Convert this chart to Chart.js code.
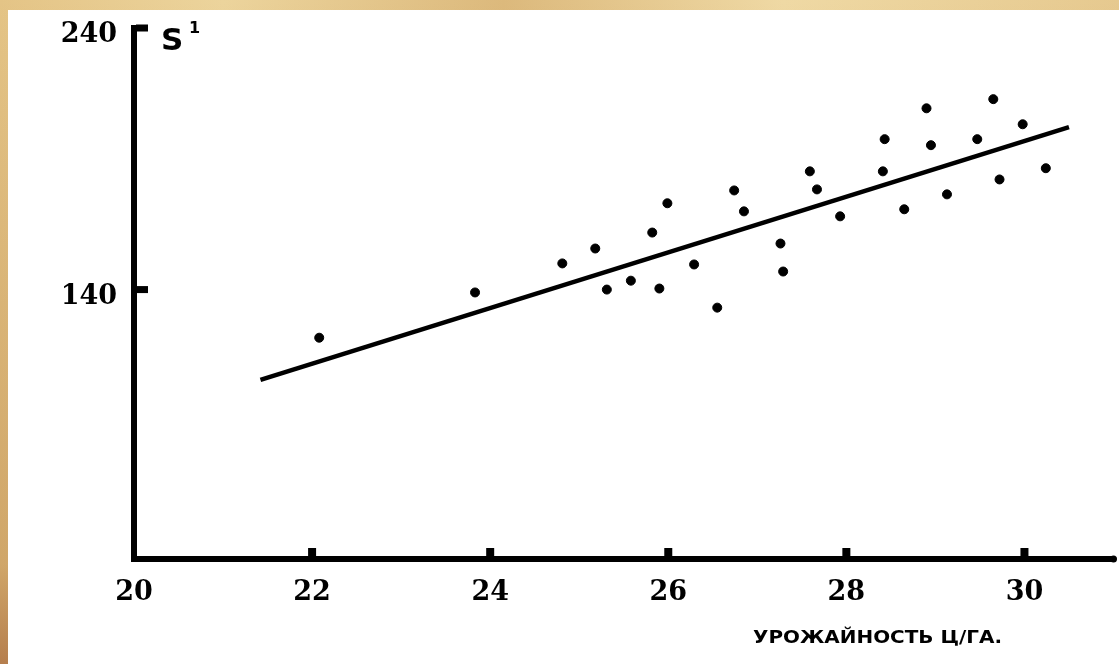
<!DOCTYPE html>
<html>
<head>
<meta charset="utf-8">
<script src="https://cdn.jsdelivr.net/npm/chart.js@4/dist/chart.umd.min.js"></script>
<style>
  html, body { margin: 0; padding: 0; }
  body {
    width: 1119px; height: 664px; overflow: hidden; position: relative;
    background:
      linear-gradient(180deg, rgba(230,200,140,0) 0%, rgba(170,110,50,0.35) 85%, rgba(150,80,40,0.6) 100%),
      linear-gradient(90deg, #e4c486 0%, #ecd49c 20%, #dcb97c 45%, #efd9a4 70%, #e6c98f 100%);
  }
  #sheet {
    position: absolute; left: 8px; top: 10px; right: 0; bottom: 0;
    background: #ffffff;
  }
  #wrap { position: absolute; left: 0; top: 0; width: 1119px; height: 664px; }
</style>
</head>
<body>
<div id="sheet"></div>
<div id="wrap"><canvas id="c" width="1119" height="664"></canvas></div>
<script>
// Yield (c/ha) against S¹ for each observation
const yieldX = [22.08, 23.83, 24.81, 25.18, 25.31, 25.58, 25.82, 25.99, 25.90, 26.29,
                26.55, 26.74, 26.85, 27.26, 27.29, 27.59, 27.67, 27.93, 28.43, 28.41,
                28.90, 28.95, 28.65, 29.13, 29.47, 29.65, 29.98, 29.72, 30.24];
const sValues = [121.6, 138.9, 150.0, 155.7, 140.0, 143.4, 161.8, 173.0, 140.4, 149.6,
                 133.1, 177.9, 169.9, 157.6, 146.9, 185.2, 178.3, 168.0, 197.5, 185.2,
                 209.3, 195.2, 170.7, 176.4, 197.5, 212.8, 203.2, 182.1, 186.4];

// Fitted regression line endpoints
const trendX = [21.42, 30.5];
const trendY = [105.5, 202.1];

// Axis ticks
const xTicks = [20, 22, 24, 26, 28, 30];
const yTicks = [140, 240];

const xAxisTitle = 'УРОЖАЙНОСТЬ Ц/ГА.';
const yAxisTitle = 'S';
const yAxisSup = '1';

const points = yieldX.map((x, i) => ({ x: x, y: sValues[i] }));
const trend = trendX.map((x, i) => ({ x: x, y: trendY[i] }));

// Short tick marks pointing into the plot, plus the axis captions
const annotate = {
  id: 'annotate',
  afterDatasetsDraw(chart) {
    const { ctx, chartArea, scales } = chart;
    const xs = scales.x, ys = scales.y;
    ctx.save();
    ctx.fillStyle = '#000';
    xTicks.forEach(v => {
      if (v === xs.min) return;
      const px = xs.getPixelForValue(v);
      ctx.fillRect(px - 4, chartArea.bottom - 11, 8, 9);
    });
    yTicks.forEach(v => {
      const py = ys.getPixelForValue(v);
      ctx.fillRect(chartArea.left + 2, py - 3.5, 12, 7);
    });
    // small point at the right end of the x axis
    ctx.beginPath();
    ctx.arc(chartArea.right, chartArea.bottom, 3.5, 0, Math.PI * 2);
    ctx.fill();
    // y caption
    ctx.textBaseline = 'alphabetic';
    ctx.textAlign = 'left';
    ctx.font = 'bold 31px "DejaVu Sans"';
    ctx.fillText(yAxisTitle, 161, 50);
    ctx.font = 'bold 16px "DejaVu Sans"';
    ctx.fillText(yAxisSup, 189, 33);
    // x caption, widened to the span of the printed label
    ctx.font = 'bold 18px "DejaVu Sans"';
    ctx.textAlign = 'left';
    const w = ctx.measureText(xAxisTitle).width;
    ctx.translate(753, 643);
    ctx.scale(249 / w, 1);
    ctx.fillText(xAxisTitle, 0, 0);
    ctx.restore();
  }
};

// Keep the plot edges fixed regardless of label overflow
function noOverflow(scale) {
  scale.paddingTop = 0;
  scale.paddingBottom = 0;
  scale.paddingLeft = 0;
  scale.paddingRight = 0;
}

new Chart(document.getElementById('c'), {
  type: 'scatter',
  data: {
    datasets: [
      {
        label: 'S¹',
        data: points,
        backgroundColor: '#000',
        borderColor: '#000',
        pointRadius: 4.5,
        pointHoverRadius: 4.5,
        order: 1
      },
      {
        label: 'trend',
        type: 'line',
        data: trend,
        borderColor: '#000',
        borderWidth: 4.5,
        pointRadius: 0,
        fill: false,
        order: 2
      }
    ]
  },
  options: {
    responsive: false,
    animation: false,
    events: [],
    layout: { padding: { top: 28, right: -6.5, left: 0, bottom: 0 } },
    plugins: { legend: { display: false }, tooltip: { enabled: false } },
    scales: {
      x: {
        type: 'linear',
        min: 20,
        max: 31,
        afterFit(scale) { scale.height = 105; noOverflow(scale); },
        afterBuildTicks(scale) { scale.ticks = xTicks.map(v => ({ value: v })); },
        grid: { display: false, drawTicks: false },
        border: { display: true, color: '#000', width: 6 },
        ticks: {
          color: '#000',
          padding: 18,
          font: { family: '"DejaVu Serif"', weight: 'bold', size: 27 },
          callback: v => String(v)
        }
      },
      y: {
        type: 'linear',
        min: 37,
        max: 240,
        afterFit(scale) { scale.width = 134; noOverflow(scale); },
        afterBuildTicks(scale) { scale.ticks = yTicks.map(v => ({ value: v })); },
        grid: { display: false, drawTicks: false },
        border: { display: true, color: '#000', width: 6 },
        ticks: {
          color: '#000',
          padding: 17,
          labelOffset: 7,
          font: { family: '"DejaVu Serif"', weight: 'bold', size: 27 },
          callback: v => String(v)
        }
      }
    }
  },
  plugins: [annotate]
});
</script>
</body>
</html>
